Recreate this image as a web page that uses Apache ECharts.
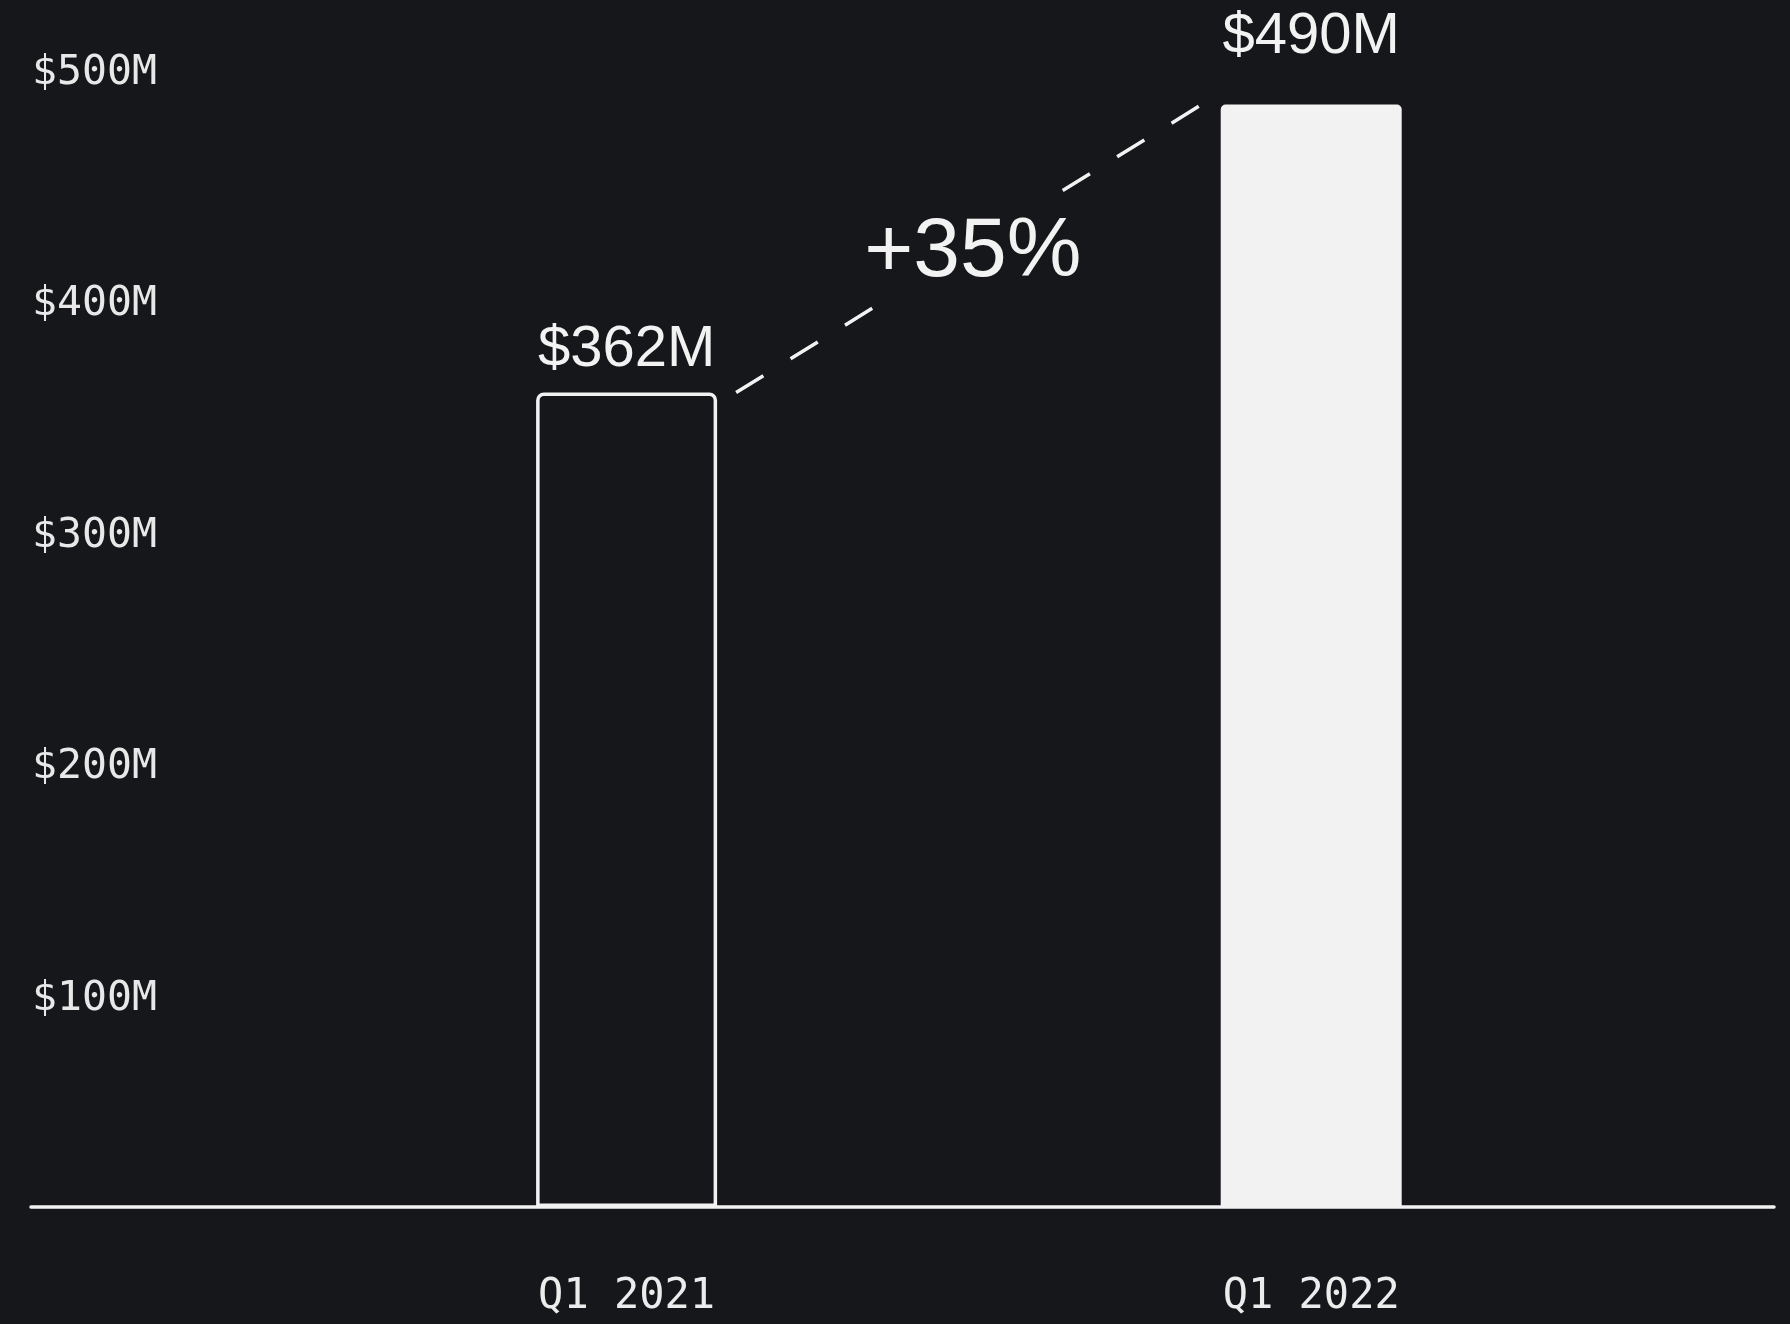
<!DOCTYPE html>
<html>
<head>
<meta charset="utf-8">
<title>Revenue Q1</title>
<script src="https://cdn.jsdelivr.net/npm/echarts@6/dist/echarts.min.js"></script>
<style>
  html, body { margin: 0; padding: 0; background: #16171b; }
  #main { width: 1790px; height: 1324px; }
</style>
</head>
<body>
<div id="main"></div>
<script>
// data
const categories = ['Q1 2021', 'Q1 2022']
const revenue = [362, 490]
const valueLabels = ['$362M', '$490M']
const tickValues = [100, 200, 300, 400, 500]
const growthLabel = '+35%'

const bg = '#16171b'
const fg = '#f2f2f2'

// per bar look: first one outlined, second one filled
const barStyles = [
  { color: bg, borderColor: fg, borderWidth: 3.5, borderRadius: [6, 6, 0, 0] },
  { color: fg, borderRadius: [5, 5, 0, 0] }
]
const labelDistance = [14, 39]

const barData = revenue.map((v, i) => ({
  value: [i, v],
  itemStyle: barStyles[i],
  label: { distance: labelDistance[i], formatter: valueLabels[i] }
}))

const myChart = echarts.init(document.getElementById('main'))

const option = {
  backgroundColor: bg,
  animation: false,
  grid: {
    left: 31,
    right: 16,
    top: 40,
    bottom: 117,
    outerBoundsMode: 'none'
  },
  xAxis: {
    type: 'value',
    min: -0.87,
    max: 1.676,
    splitLine: { show: false },
    axisTick: { show: false },
    axisLine: { show: true, onZero: false, lineStyle: { color: fg, width: 3.5 } },
    axisLabel: {
      customValues: [0, 1],
      formatter: (v) => categories[Math.round(v)],
      color: '#ececec',
      fontFamily: 'DejaVu Sans Mono',
      fontSize: 42,
      margin: 69
    }
  },
  yAxis: [
    {
      // scale for the bars
      type: 'value',
      min: 0,
      max: 518.67,
      show: false
    },
    {
      // tick labels only
      type: 'value',
      position: 'left',
      min: 10.1,
      max: 514.2,
      splitLine: { show: false },
      axisLine: { show: false },
      axisTick: { show: false },
      axisLabel: {
        customValues: tickValues,
        formatter: (v) => '$' + v + 'M',
        align: 'left',
        margin: -1,
        color: '#e8e8e8',
        fontFamily: 'DejaVu Sans Mono',
        fontSize: 41.5
      }
    }
  ],
  series: [
    {
      type: 'bar',
      yAxisIndex: 0,
      barWidth: 181,
      data: barData,
      label: {
        show: true,
        position: 'top',
        color: fg,
        fontFamily: 'Liberation Sans',
        fontSize: 58
      }
    },
    {
      // dashed connector with the growth figure in the middle
      type: 'line',
      yAxisIndex: 0,
      symbol: 'none',
      silent: true,
      data: [[0.16, revenue[0]], [0.84, revenue[1]]],
      lineStyle: { color: fg, width: 3.5, type: [32, 32] },
      markPoint: {
        symbol: 'circle',
        symbolSize: 1,
        itemStyle: { color: 'transparent' },
        label: {
          show: true,
          position: 'inside',
          offset: [4, 4],
          formatter: growthLabel,
          color: fg,
          fontFamily: 'Liberation Sans',
          fontSize: 84,
          backgroundColor: bg,
          padding: [16, 8, 2, 8]
        },
        data: [{ coord: [0.5, (revenue[0] + revenue[1]) / 2], value: growthLabel }]
      }
    }
  ]
}

myChart.setOption(option)
</script>
</body>
</html>
